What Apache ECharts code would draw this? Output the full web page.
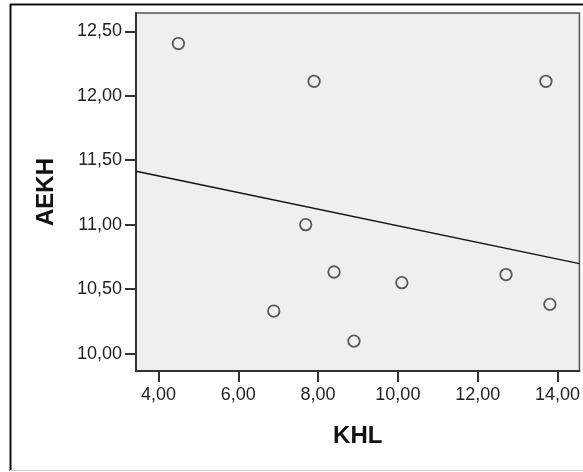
<!DOCTYPE html>
<html>
<head>
<meta charset="utf-8">
<script src="https://cdn.jsdelivr.net/npm/echarts@6/dist/echarts.min.js"></script>
<style>
html,body{margin:0;padding:0;background:#fff;}
#c{width:583px;height:472px;}
</style>
</head>
<body>
<div id="c"></div>
<script>
var khl  = [4.50, 7.90, 13.71, 7.69, 8.40, 6.89, 8.90, 10.10, 12.71, 13.81];
var aekh = [12.405, 12.112, 12.112, 11.00, 10.633, 10.330, 10.097, 10.550, 10.613, 10.382];
var fitX = [3.44, 14.55];
var fitY = [11.414, 10.698];
var xTicks = [4, 6, 8, 10, 12, 14];
var yTicks = [10, 10.5, 11, 11.5, 12, 12.5];
var xName = 'KHL';
var yName = 'AEKH';

var pts = khl.map(function(v, i){ return [v, aekh[i]]; });
var fit = fitX.map(function(v, i){ return [v, fitY[i]]; });
function fmt(v){ return v.toFixed(2).replace('.', ','); }

var chart = echarts.init(document.getElementById('c'), null, {renderer:'canvas'});
chart.setOption({
  animation: false,
  backgroundColor: '#ffffff',
  textStyle: {fontFamily: 'Liberation Sans, Arial, sans-serif'},
  grid: {left: 136, top: 13, right: 1, bottom: 101, show: true,
         backgroundColor: '#efefef', borderColor: '#555', borderWidth: 1.5},
  xAxis: {
    type: 'value', min: 3.437, max: 14.55,
    name: xName, nameLocation: 'middle', nameGap: 53,
    nameTextStyle: {fontSize: 24, fontWeight: 'bold', color: '#111'},
    axisLine: {show: true, lineStyle: {color: '#333', width: 2}},
    axisTick: {show: true, length: 11, lineStyle: {color: '#333', width: 2}, customValues: xTicks},
    axisLabel: {fontSize: 18, color: '#222', margin: 15, customValues: xTicks, formatter: fmt},
    splitLine: {show: false}
  },
  yAxis: {
    type: 'value', min: 9.865, max: 12.642,
    name: yName, nameLocation: 'middle', nameGap: 78, nameRotate: 90,
    nameTextStyle: {fontSize: 24, fontWeight: 'bold', color: '#111'},
    axisLine: {show: true, lineStyle: {color: '#333', width: 2}},
    axisTick: {show: true, length: 11, lineStyle: {color: '#333', width: 2}, customValues: yTicks},
    axisLabel: {fontSize: 18, color: '#222', margin: 14, customValues: yTicks, formatter: fmt},
    splitLine: {show: false}
  },
  graphic: [
    {type: 'line', shape: {x1: 10, y1: 4.5, x2: 583, y2: 4.5}, style: {stroke: '#111', lineWidth: 2}},
    {type: 'line', shape: {x1: 10.5, y1: 4, x2: 10.5, y2: 471}, style: {stroke: '#111', lineWidth: 2}},
    {type: 'line', shape: {x1: 10, y1: 470.5, x2: 583, y2: 470.5}, style: {stroke: '#cfcfcf', lineWidth: 1}}
  ],
  series: [
    {type: 'line', data: fit, symbol: 'none', lineStyle: {color: '#111', width: 1.5}, silent: true, z: 2},
    {type: 'scatter', data: pts, symbol: 'circle', symbolSize: 11.5,
     itemStyle: {color: 'rgba(0,0,0,0)', borderColor: '#333', borderWidth: 1.8}, z: 3}
  ]
});
</script>
</body>
</html>
